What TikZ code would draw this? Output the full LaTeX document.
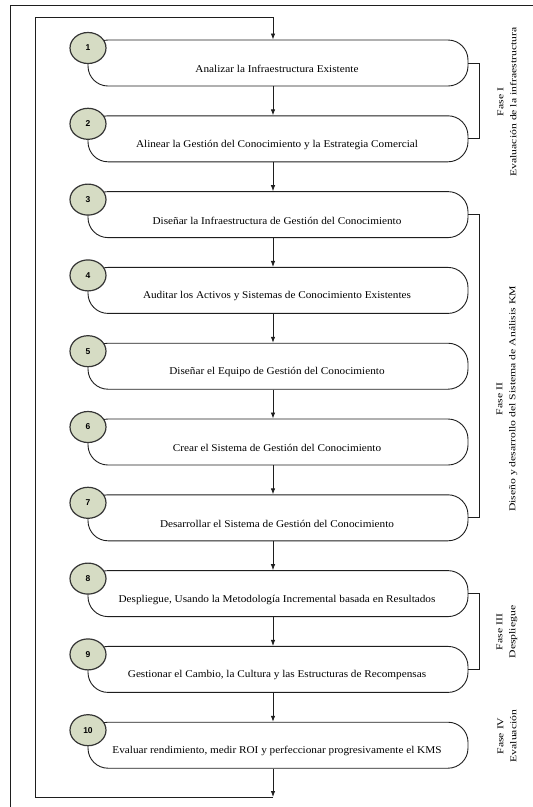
\documentclass[tikz,border=0pt]{standalone}
\usepackage{fontspec}
\setmainfont{Liberation Serif}
\newfontfamily\numfont{Liberation Sans}
\usetikzlibrary{arrows.meta,shapes.geometric}
\definecolor{badgefill}{RGB}{214,220,196}
\definecolor{ink}{RGB}{30,30,30}
\begin{document}
\begin{tikzpicture}[x=1pt,y=-1pt,
  stepbox/.style={draw=ink, line width=0.9pt, rounded corners=20pt,
    minimum width=380pt, minimum height=46pt, inner sep=0pt},
  badge/.style={ellipse, draw=ink!90, line width=1.2pt, fill=badgefill,
    minimum width=36pt, minimum height=31pt, inner sep=0pt,
    font=\numfont\bfseries\fontsize{8.5}{8.5}\selectfont},
  steptext/.style={inner sep=0pt, font=\fontsize{10.4}{12}\selectfont},
  flow/.style={draw=ink, line width=0.8pt, -{Latex[length=6pt,width=4.5pt]}},
  wire/.style={draw=ink, line width=0.8pt},
  phase/.style={rotate=90, align=center, inner sep=0pt,
    font=\fontsize{9}{13}\selectfont}
]
\useasboundingbox (0,0) rectangle (533,807);
\clip (0,0) rectangle (533,807);

% page frame
\draw[wire] (10,830) -- (10,5) -- (560,5);

% steps: box, number badge, caption
\foreach \i/\txt in {
  1/Analizar la Infraestructura Existente,
  2/Alinear la Gestión del Conocimiento y la Estrategia Comercial,
  3/Diseñar la Infraestructura de Gestión del Conocimiento,
  4/Auditar los Activos y Sistemas de Conocimiento Existentes,
  5/Diseñar el Equipo de Gestión del Conocimiento,
  6/Crear el Sistema de Gestión del Conocimiento,
  7/Desarrollar el Sistema de Gestión del Conocimiento,
  8/{Despliegue, Usando la Metodología Incremental basada en Resultados},
  9/{Gestionar el Cambio, la Cultura y las Estructuras de Recompensas},
  10/{Evaluar rendimiento, medir ROI y perfeccionar progresivamente el KMS}}
{
  \pgfmathsetmacro{\tp}{40+(\i-1)*75.8}
  \node[stepbox] (b\i) at (278,\tp+23) {};
  \node[badge] (n\i) at (88,\tp+8) {\i};
  \node[steptext] (t\i) at (277,\tp+29) {\scalebox{1.08}[1]{\txt}};
}

% flow between consecutive steps
\foreach \i [evaluate=\i as \j using int(\i+1)] in {1,...,9}
  \draw[flow] ([xshift=-5pt]b\i.south) -- ([xshift=-5pt]b\j.north);

% feedback loop from the last step back to the first
\coordinate (loopbot) at (273,797);
\coordinate (loopl1) at (35,797);
\coordinate (loopl2) at (35,17);
\coordinate (looptop) at (273,17);
\draw[flow] ([xshift=-5pt]b10.south) -- (loopbot);
\draw[flow] (loopbot) -- (loopl1) -- (loopl2) -- (looptop) -- ([xshift=-5pt]b1.north);

% phase brackets
\draw[wire] (b1.east) -- ++(11,0) |- (b2.east);
\draw[wire] (b3.east) -- ++(11,0) |- (b7.east);
\draw[wire] (b8.east) -- ++(11,0) |- (b9.east);

% phase labels
\node[phase] (p1) at (507,102) {\scalebox{1.3}[1]{Fase I}\\\scalebox{1.3}[1]{Evaluación de la infraestructura}};
\node[phase] (p2) at (507,399) {\scalebox{1.3}[1]{Fase II}\\\scalebox{1.3}[1]{Diseño y desarrollo del Sistema de Análisis KM}};
\node[phase] (p3) at (507,632) {\scalebox{1.3}[1]{Fase III}\\\scalebox{1.3}[1]{Despliegue}};
\node[phase] (p4) at (507,736) {\scalebox{1.3}[1]{Fase IV}\\\scalebox{1.3}[1]{Evaluación}};
\end{tikzpicture}
\end{document}
